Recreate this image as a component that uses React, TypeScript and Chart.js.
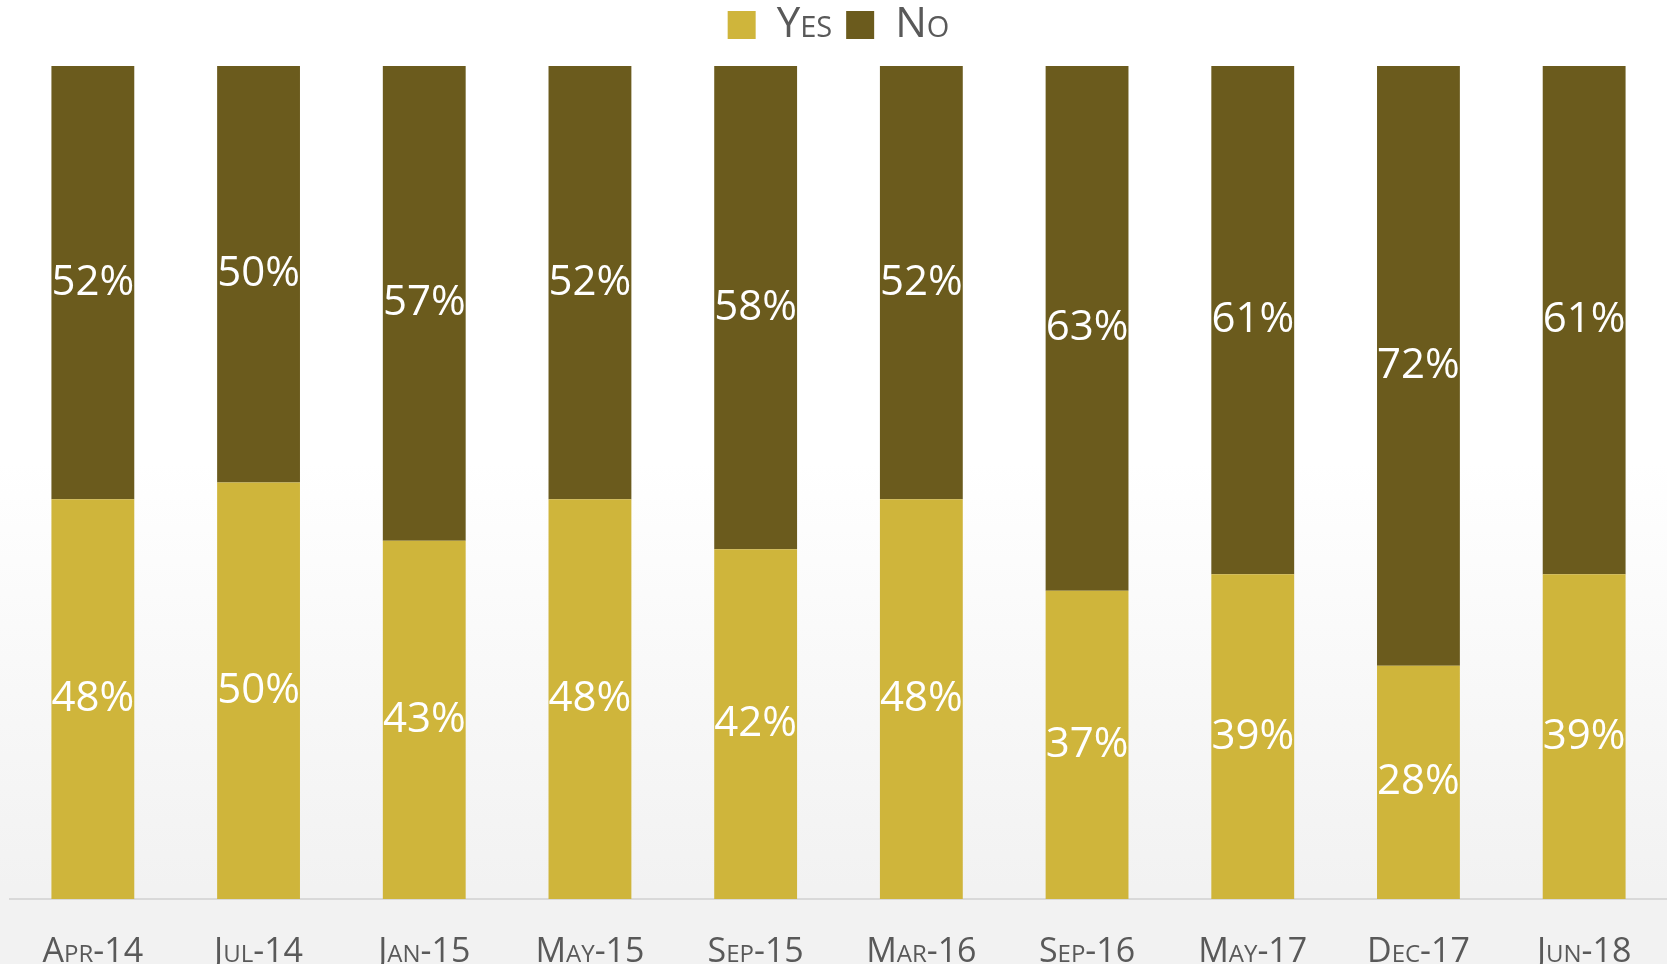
import React, { useEffect, useRef } from "react";
import { Chart, registerables } from "chart.js";

Chart.register(...registerables);

const categories = ["Apr-14", "Jul-14", "Jan-15", "May-15", "Sep-15", "Mar-16", "Sep-16", "May-17", "Dec-17", "Jun-18"];
const yesValues = [48, 50, 43, 48, 42, 48, 37, 39, 28, 39];
const noValues = [52, 50, 57, 52, 58, 52, 63, 61, 72, 61];
const seriesNames = ["Yes", "No"];
const yesColor = "#CFB53B";
const noColor = "#6B5B1D";

const labelPlugin = {
  id: "barLabels",
  afterInit(chart: any) {
    const lg = chart.legend;
    if (lg && !lg.__patched) {
      const orig = lg.fit;
      lg.fit = function () {
        orig.call(this);
        this.height += 10;
      };
      lg.__patched = true;
    }
  },
  afterDatasetsDraw(chart: any) {
    const ctx = chart.ctx;
    ctx.save();
    ctx.fillStyle = "#ffffff";
    ctx.font = "42px 'Open Sans'";
    ctx.textAlign = "center";
    ctx.textBaseline = "middle";
    chart.data.datasets.forEach((ds: any, di: number) => {
      const meta = chart.getDatasetMeta(di);
      meta.data.forEach((el: any, i: number) => {
        const y = (el.y + el.base) / 2;
        ctx.fillText(ds.data[i] + "%", el.x, y);
      });
    });
    ctx.restore();
  },
};

export default function App() {
  const ref = useRef<HTMLCanvasElement>(null);
  useEffect(() => {
    document.body.style.margin = "0";
    const chart = new Chart(ref.current!, {
      type: "bar",
      data: {
        labels: categories,
        datasets: [
          { label: seriesNames[0], data: yesValues, backgroundColor: yesColor, barPercentage: 0.5, categoryPercentage: 1 },
          { label: seriesNames[1], data: noValues, backgroundColor: noColor, barPercentage: 0.5, categoryPercentage: 1 },
        ],
      },
      options: {
        animation: false,
        responsive: false,
        maintainAspectRatio: false,
        layout: { padding: { left: 10, right: 0, top: -10, bottom: 0 } },
        plugins: {
          legend: {
            position: "top",
            labels: {
              boxWidth: 28,
              boxHeight: 28,
              padding: 14,
              color: "#595959",
              font: { family: "'Open Sans'", size: 42, weight: "small-caps" as any },
            },
          },
          tooltip: { enabled: false },
        },
        scales: {
          x: {
            stacked: true,
            grid: { display: false },
            border: { display: true, color: "#d9d9d9", width: 2 },
            ticks: {
              color: "#595959",
              padding: 25,
              maxRotation: 0,
              autoSkip: false,
              font: { family: "'Open Sans'", size: 34, weight: "small-caps" as any },
            },
            afterFit(scale: any) {
              scale.height = 65;
            },
          },
          y: {
            stacked: true,
            display: false,
            min: 0,
            max: 100,
          },
        },
      },
      plugins: [labelPlugin],
    });
    return () => chart.destroy();
  }, []);
  return (
    <div
      style={{
        position: "fixed",
        left: 0,
        top: 0,
        width: 1667,
        height: 964,
        background: "linear-gradient(to bottom, #ffffff 0%, #ffffff 48%, #f2f2f2 92%, #f2f2f2 100%)",
      }}
    >
      <canvas ref={ref} width={1667} height={964} style={{ display: "block" }} />
    </div>
  );
}
